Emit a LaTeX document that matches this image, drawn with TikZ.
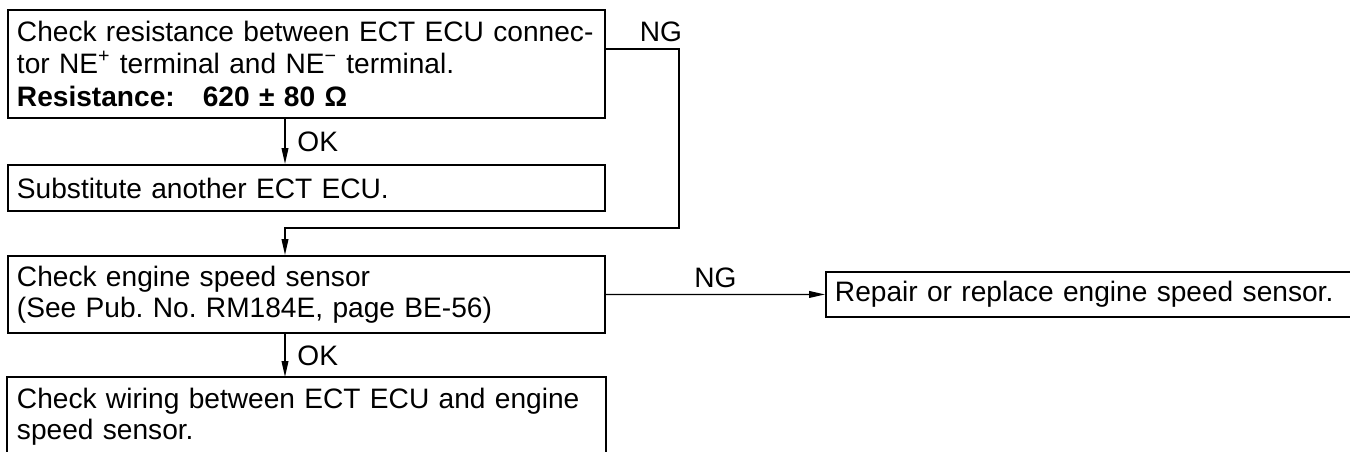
\documentclass[tikz,border=0pt]{standalone}
\usepackage{fontspec}
\setmainfont{Liberation Sans}
\usetikzlibrary{arrows.meta,positioning}
\frenchspacing

\begin{document}
\begin{tikzpicture}[x=0.02cm,y=-0.02cm,
  every node/.style={font=\fontsize{16}{17.5}\selectfont},
  stepbox/.style={draw,line width=1.1pt,anchor=north west,align=left,inner xsep=0.18cm,text width=11.58cm,minimum width=11.94cm},
  link/.style={line width=0.8pt,-{Triangle[length=9pt,width=3.8pt]}},
  tag/.style={inner sep=1pt}]
\path[use as bounding box,clip] (0,0) rectangle (1350,452);

% check boxes down the left
\node[stepbox,minimum height=2.16cm] (resist) at (7,9) {Check resistance between ECT ECU connec-\\[1pt]tor NE\textsuperscript{+} terminal and NE\textsuperscript{−} terminal.\\[1pt]\textbf{Resistance:\quad 620 ± 80 Ω}};
\node[stepbox,minimum height=0.92cm] (subst) at (7,164) {Substitute another ECT ECU.};
\node[stepbox,minimum height=1.54cm] (sensor) at (7,255) {Check engine speed sensor\\(See Pub. No. RM184E, page BE-56)};
\node[stepbox,draw=none,minimum height=1.54cm] (wiring) at (7,377) {Check wiring between ECT ECU and engine\\speed sensor.};
\draw[line width=1.1pt] ([yshift=-1cm]wiring.south west) |- (wiring.north east) -- ([yshift=-1cm]wiring.south east);

% repair box, runs off the right edge
\node[stepbox,text width=10.7cm,minimum width=11.06cm,minimum height=0.9cm] (repair) at (825,271) {Repair or replace engine speed sensor.};

\coordinate (trunk) at (285,0);
\coordinate (loop) at (679,228);

% OK / NG connectors
\draw[link] (resist.south -| trunk) -- node[tag,right,xshift=0.2cm]{OK} (subst.north -| trunk);
\draw[link] (resist.east |- 0,49) -| (loop) -| (sensor.north -| trunk);
\node[tag] (ngA) at (661,32) {NG};
\draw[link] (sensor.east) -- node[tag,above,yshift=0.08cm]{NG} (repair.west);
\draw[link] (sensor.south -| trunk) -- node[tag,right,xshift=0.2cm]{OK} (wiring.north -| trunk);
\end{tikzpicture}
\end{document}
